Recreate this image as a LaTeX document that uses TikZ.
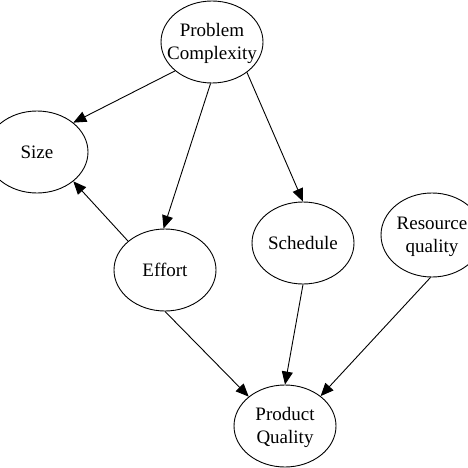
\documentclass[tikz,border=0pt]{standalone}
\usepackage{fontspec}
\setmainfont{Liberation Serif}
\usetikzlibrary{shapes.geometric,arrows.meta}
\newcommand{\lbl}[1]{\smash{\makebox[0pt]{\raisebox{-6pt}{\begin{tabular}{@{}c@{}}#1\end{tabular}}}}}
\tikzset{
  var/.style={ellipse,draw,line width=0.9pt,minimum width=102pt,minimum height=82pt,inner sep=0pt,
    font=\fontsize{19}{23}\selectfont},
  link/.style={line width=0.9pt,-{Triangle[length=13pt,width=11pt]}}
}
\begin{document}
\begin{tikzpicture}[x=1pt,y=-1pt]
\useasboundingbox (0,0) rectangle (468,468);
\node[var] (pc) at (212,42) {\lbl{Problem\\Complexity}};
\node[var] (size) at (37,152) {\lbl{Size}};
\node[var] (effort) at (165,270) {\lbl{Effort}};
\node[var] (sched) at (303,243) {\lbl{Schedule}};
\node[var,minimum height=84pt] (res) at (432,235) {\lbl{Resource\\quality}};
\node[var] (pq) at (285,426) {\lbl{Product\\Quality}};
\draw[link] (pc.-142) -- (size.39);
\draw[link] (pc.-92) -- (effort.92);
\draw[link] (pc.-41) -- (sched.north);
\draw[link] (effort.142) -- (size.-39);
\draw[link] (effort.south) -- (pq.141);
\draw[link] (sched.south) -- (pq.north);
\draw[link] (res.-92) -- (pq.40);
\end{tikzpicture}
\end{document}
